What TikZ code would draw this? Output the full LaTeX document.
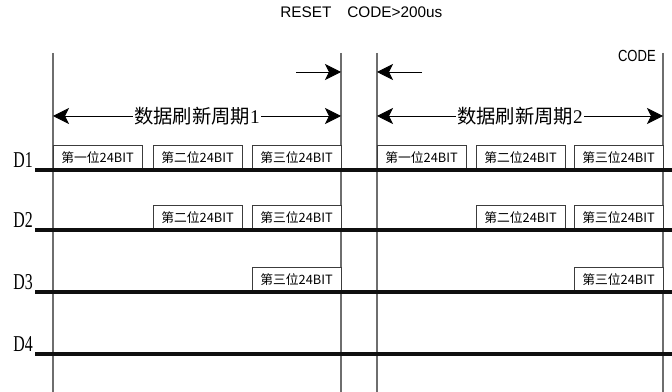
\documentclass[tikz,border=0pt]{standalone}
\usepackage{fontspec}
\setmainfont{Liberation Serif}
\setsansfont{Liberation Sans}
\newfontfamily\cjksans{Noto Sans CJK SC}
\usetikzlibrary{arrows.meta}
\definecolor{framegray}{RGB}{110,110,110}
\definecolor{boxgray}{RGB}{60,60,60}
\definecolor{signalblack}{RGB}{15,15,15}
\tikzset{
    timeline/.style={framegray,line width=0.9pt},
    signal/.style={signalblack,line width=2.6pt},
    bitbox/.style={draw=boxgray,line width=0.6pt,fill=white,anchor=south west,
        minimum width=66.75pt,minimum height=18.75pt,inner sep=0pt,outer sep=0pt,
        font=\cjksans\fontsize{9.6}{10}\selectfont},
    period/.style={line width=0.6pt,{Stealth[length=12pt,width=12pt,inset=3pt]}-{Stealth[length=12pt,width=12pt,inset=3pt]}},
    resetarrow/.style={line width=0.6pt,-{Stealth[length=12pt,width=12pt,inset=3pt]}},
    chanlabel/.style={anchor=base east,inner sep=0pt,font=\fontsize{17}{18}\selectfont},
}
\begin{document}
\begin{tikzpicture}[x=0.75pt,y=-0.75pt]
\useasboundingbox (0,0) rectangle (672,392);

% Frame boundaries of both refresh periods
\foreach \name/\xpos in {t0/53,t1/341,t2/377,t3/663}{
    \coordinate (\name top) at (\xpos,53);
    \coordinate (\name bot) at (\xpos,392);
    \draw[timeline] (\name top) -- (\name bot);
}

% Title
\node[anchor=base west,inner sep=0pt,font=\sffamily\fontsize{11.5}{12}\selectfont] (title)
    at (280,18) {RESET\hspace{12pt}CODE>200us};
\node[anchor=base east,inner sep=0pt,font=\sffamily\fontsize{11.5}{12}\selectfont] (code)
    at (656,62) {\scalebox{0.85}[1.05]{CODE}};

% Reset gap arrows
\coordinate (rstA) at (296,72);
\coordinate (rstB) at (341,72);
\coordinate (rstC) at (377,72);
\coordinate (rstD) at (422,72);
\draw[resetarrow] (rstA) -- (rstB);
\draw[resetarrow] (rstD) -- (rstC);

% Refresh periods
\coordinate (p1a) at (53,116);
\coordinate (p1b) at (341,116);
\coordinate (p2a) at (377,116);
\coordinate (p2b) at (663,116);
\draw[period] (p1a) -- (p1b)
    node[midway,fill=white,inner xsep=1pt,inner ysep=0pt,font=\fontsize{14.5}{15}\selectfont] (per1)
    {{\cjksans 数据刷新周期}1};
\draw[period] (p2a) -- (p2b)
    node[midway,fill=white,inner xsep=1pt,inner ysep=0pt,font=\fontsize{14.5}{15}\selectfont] (per2)
    {{\cjksans 数据刷新周期}2};

% Data bits of each channel
\foreach \off/\p in {0/a,324/b}{
    \node[bitbox] (d1one\p) at (53+\off,170) {第一位24BIT};
    \node[bitbox] (d1two\p) at (153+\off-\off/324,170) {第二位24BIT};
    \node[bitbox] (d1thr\p) at (252+\off-2*\off/324,170) {第三位24BIT};
    \node[bitbox] (d2two\p) at (153+\off-\off/324,230) {第二位24BIT};
    \node[bitbox] (d2thr\p) at (252+\off-2*\off/324,230) {第三位24BIT};
    \node[bitbox] (d3thr\p) at (252+\off-2*\off/324,292) {第三位24BIT};
}

% Signal lines
\foreach \ch/\ypos in {1/170,2/230,3/292,4/354}{
    \coordinate (s\ch) at (35,\ypos);
    \coordinate (e\ch) at (672,\ypos);
    \draw[signal] (s\ch) -- (e\ch);
    \node[chanlabel] (lab\ch) at (33,\ypos-2) {\scalebox{0.7}[1]{D\ch}};
}

\end{tikzpicture}
\end{document}
